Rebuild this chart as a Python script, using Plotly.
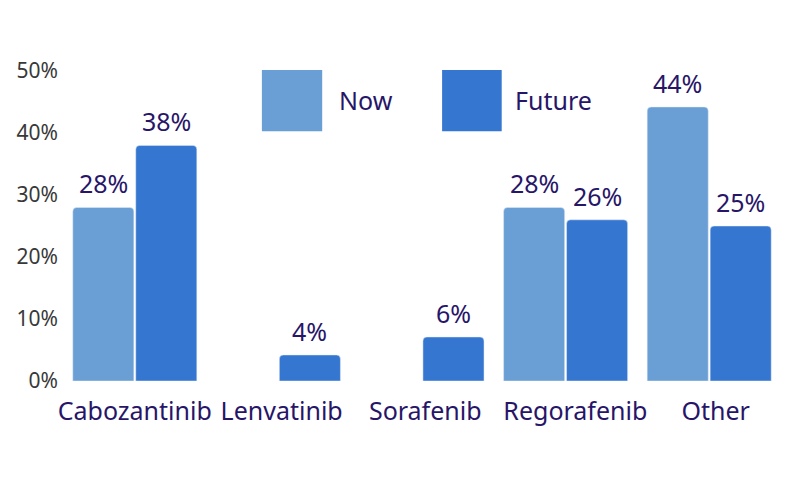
import plotly.graph_objects as go

categories = ["Cabozantinib", "Lenvatinib", "Sorafenib", "Regorafenib", "Other"]
now_values = [28, None, None, 28, 44.2]
future_values = [38, 4.2, 7.1, 26, 25]
now_labels = ["28%", "", "", "28%", "44%"]
future_labels = ["38%", "4%", "6%", "26%", "25%"]
tick_values = [0, 10, 20, 30, 40, 50]
tick_labels = ["0%", "10%", "20%", "30%", "40%", "50%"]

NOW_COLOR = "#6a9fd5"
FUTURE_COLOR = "#3576d0"
TEXT_COLOR = "#271568"
FONT = "Noto Sans"

BARGAP = 0.123
BARGROUPGAP = 0.03
offset = (1 - BARGAP) / 4  # centre offset of each bar within its group

# small visual nudges of the category labels (leading non-breaking spaces)
label_pad = [0, 1, 1, 3, 2]
NBSP = "\u00a0"
category_ticktext = [NBSP * p + c for c, p in zip(categories, label_pad)]

fig = go.Figure()
fig.add_trace(go.Bar(name="Now", x=categories, y=now_values, marker_color=NOW_COLOR))
fig.add_trace(go.Bar(name="Future", x=categories, y=future_values, marker_color=FUTURE_COLOR))

# value labels above bars
for i, cat in enumerate(categories):
    for vals, labs, sign in [(now_values, now_labels, -1), (future_values, future_labels, 1)]:
        if vals[i] is None:
            continue
        fig.add_annotation(x=i + sign * offset, y=vals[i], xref="x", yref="y",
                           text=labs[i], showarrow=False, yanchor="bottom", yshift=5,
                           font=dict(size=25, color=TEXT_COLOR, family=FONT))

fig.update_layout(
    width=800, height=500,
    margin=dict(l=63, r=19, t=71, b=119, autoexpand=False),
    paper_bgcolor="white", plot_bgcolor="white",
    barmode="group", bargap=BARGAP, bargroupgap=BARGROUPGAP,
    barcornerradius=4,
    showlegend=False,
    font=dict(family=FONT, color="#333333"),
    xaxis=dict(
        tickvals=categories, ticktext=category_ticktext,
        showgrid=False, showline=False, zeroline=False, ticks="",
        tickangle=0, automargin=False,
        tickfont=dict(size=25, color=TEXT_COLOR, family=FONT),
        ticklabelstandoff=13,
    ),
    yaxis=dict(
        range=[0, 50], tickvals=tick_values, ticktext=tick_labels,
        showgrid=False, showline=False, zeroline=False, ticks="",
        automargin=False,
        tickfont=dict(size=21, color="#383838", family=FONT),
        ticklabelstandoff=4,
    ),
)

# Legend drawn as large swatches with labels
for x0, x1, color, label, tx in [
    (0.277, 0.361, NOW_COLOR, "Now", 0.382),
    (0.528, 0.611, FUTURE_COLOR, "Future", 0.627),
]:
    fig.add_shape(type="rect", xref="paper", yref="paper",
                  x0=x0, x1=x1, y0=0.806, y1=1.003,
                  fillcolor=color, line=dict(width=0))
    fig.add_annotation(xref="paper", yref="paper", x=tx, y=0.906,
                       text=label, showarrow=False, xanchor="left", yanchor="middle",
                       font=dict(size=25, color=TEXT_COLOR, family=FONT))

fig.write_html("out.html", config={"displayModeBar": False},
               post_script="document.body.style.margin='0';")
